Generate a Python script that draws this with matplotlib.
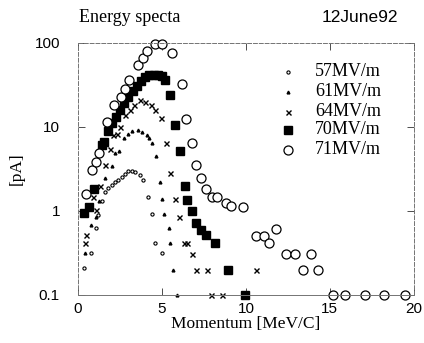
import matplotlib.pyplot as plt

# 57 MV/m
x57 = [0.38, 0.8, 1.05, 1.2, 1.4, 1.6, 1.8, 2.0, 2.2, 2.4, 2.6, 2.8, 3.0, 3.2, 3.4, 3.7, 3.9, 4.15, 4.4, 4.6, 5.0]
y57 = [0.21, 0.32, 0.62, 0.9, 1.3, 1.7, 1.86, 2.05, 2.2, 2.35, 2.55, 2.75, 2.95, 2.95, 2.9, 2.7, 2.35, 1.45, 0.91, 0.42, 0.32]

# 61 MV/m
x61 = [0.42, 0.8, 1.05, 1.27, 1.6, 2.0, 2.2, 2.45, 2.75, 3.0, 3.2, 3.6, 3.8, 4.1, 4.25, 4.4, 4.65, 4.9, 5.0, 5.1, 5.4, 5.45, 5.65, 5.9]
y61 = [0.32, 0.68, 0.85, 1.3, 2.5, 3.4, 4.9, 5.2, 7.4, 8.3, 9.0, 9.3, 8.7, 8.0, 7.4, 6.5, 4.5, 2.2, 1.4, 0.91, 0.62, 0.42, 0.20, 0.1]

# 64 MV/m
x64 = [0.42, 0.5, 0.87, 1.1, 1.3, 1.6, 1.9, 2.1, 2.3, 2.5, 2.8, 3.1, 3.35, 3.7, 4.0, 4.35, 4.6, 4.95, 5.25, 5.5,
       5.75, 6.0, 6.3, 6.5, 6.8, 7.0, 7.7, 7.95, 8.55, 10.6]
y64 = [0.42, 0.52, 1.45, 1.02, 2.0, 3.5, 5.5, 8.0, 8.3, 10.0, 14.0, 16.0, 18.0, 21.0, 20.0, 18.0, 16.0, 12.6, 6.5, 2.8,
       1.4, 0.85, 0.42, 0.42, 0.31, 0.2, 0.2, 0.1, 0.1, 0.2]

# 70 MV/m
x70 = [0.35, 0.65, 0.95, 1.4, 1.55, 1.8, 2.0, 2.25, 2.5, 2.75, 3.0, 3.25, 3.5, 3.75, 4.0, 4.25, 4.5, 4.75, 5.0, 5.2,
       5.45, 5.75, 6.05, 6.35, 6.5, 6.8, 7.05, 7.35, 7.6, 8.15, 8.95, 9.95]
y70 = [0.95, 1.1, 1.8, 6.1, 6.6, 9.0, 11.0, 13.0, 16.0, 19.0, 23.0, 27.0, 31.0, 35.0, 39.0, 41.0, 42.0, 42.0, 40.0, 36.0,
       24.0, 10.5, 5.2, 2.0, 1.35, 1.0, 0.71, 0.60, 0.52, 0.42, 0.20, 0.10]

# 71 MV/m
x71 = [0.45, 0.85, 1.05, 1.25, 1.7, 2.15, 2.55, 2.8, 3.05, 3.55, 3.85, 4.1, 4.6, 5.0, 5.6, 6.2, 6.45, 6.8, 7.0, 7.3,
       7.6, 8.0, 8.3, 8.8, 9.1, 9.8, 10.6, 11.1, 11.4, 11.8, 12.4, 12.9, 13.4, 13.9, 14.3, 15.2, 15.9, 17.1, 18.2, 19.5]
y71 = [1.6, 3.1, 3.8, 4.9, 11.5, 18, 23, 28, 36, 54, 66, 80, 98, 98, 75, 32, 12.5, 6.5, 3.5, 2.5,
       1.8, 1.45, 1.45, 1.23, 1.15, 1.12, 0.51, 0.51, 0.42, 0.61, 0.31, 0.31, 0.2, 0.31, 0.2, 0.1, 0.1, 0.1, 0.1, 0.1]

labels = ["57MV/m", "61MV/m", "64MV/m", "70MV/m", "71MV/m"]

serif = "Liberation Serif"
sans = "Liberation Sans"

styles = [dict(marker="o", ms=2.3, mfc="white", mec="black", mew=0.8),
          dict(marker="^", ms=2.0, color="black"),
          dict(marker="x", ms=3.6, mew=1.0, color="black"),
          dict(marker="s", ms=5.8, color="black"),
          dict(marker="o", ms=6.5, mfc="white", mec="black", mew=0.9)]

fig = plt.figure(figsize=(4.24, 3.43), dpi=100)
ax = fig.add_axes([0.184, 0.140, 0.792, 0.735])

for xs, ys, st in zip([x57, x61, x64, x70, x71], [y57, y61, y64, y70, y71], styles):
    ax.plot(xs, ys, ls="none", clip_on=False, **st)

ax.set_yscale("log")
ax.set_xlim(0, 20)
ax.set_ylim(0.1, 100)
ax.minorticks_off()
ax.set_xticks([0, 5, 10, 15, 20])
ax.set_xticklabels(["0", "5", "10", "15", "20"], fontfamily=sans, fontsize=11)
ax.set_yticks([0.1, 1, 10, 100])
ax.set_yticklabels(["0.1", "1", "10", "100"], fontfamily=sans, fontsize=11)
ax.tick_params(direction="in", top=True, right=True, length=5, width=0.7, color="0.3")
ax.tick_params(axis="y", pad=13)
ax.tick_params(axis="x", pad=5)

for s in ax.spines.values():
    s.set_linestyle((0, (4, 2)))
    s.set_linewidth(0.7)
    s.set_color("0.45")
ax.spines["bottom"].set_linestyle("-")

ax.set_xlabel("Momentum [MeV/C]", fontfamily=serif, fontsize=12.5, labelpad=0)
ax.set_ylabel("[pA]", fontfamily=serif, fontsize=12.5, labelpad=7)

fig.text(79 / 424, 1 - 18 / 343, "Energy specta", fontfamily=serif, fontsize=13, va="center", ha="left")
fig.text(398 / 424, 1 - 18 / 343, "12June92", fontfamily=sans, fontsize=12.5, va="center", ha="right")

# legend drawn as markers + text in figure coords
leg_y = [72, 92, 112, 130, 150]
for yy, lab, st in zip(leg_y, labels, styles):
    fy = 1 - yy / 343
    fig.lines.append(plt.Line2D([288 / 424], [fy], transform=fig.transFigure, ls="none", **st))
    fig.text(315 / 424, fy, lab, fontfamily=serif, fontsize=13, va="center", ha="left")

fig.savefig("out.png", dpi=100)
